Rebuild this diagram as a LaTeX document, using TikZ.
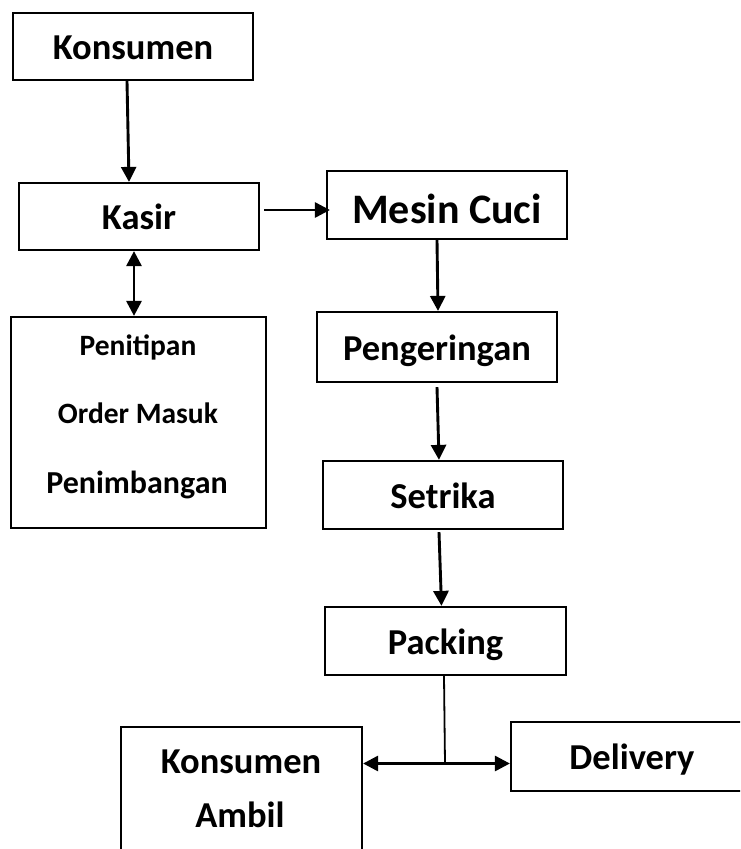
\documentclass[tikz,border=0pt]{standalone}
\usepackage{fontspec}
\setmainfont{Carlito}
\usetikzlibrary{arrows.meta}
\begin{document}
\begin{tikzpicture}[x=1pt,y=-1pt,
  box/.style={draw, line width=2.2pt, rectangle, inner sep=0pt,
    font=\bfseries\fontsize{36.5}{44}\selectfont, text height=26pt, text depth=0pt},
  big/.style={font=\bfseries\fontsize{42}{50}\selectfont, text height=36pt},
  txt/.style={inner sep=0pt, anchor=base, font=\bfseries\fontsize{36.5}{44}\selectfont},
  arr/.style={line width=2.9pt, -{Triangle[length=15pt,width=15pt]}},
  darr/.style={line width=2.9pt, {Triangle[length=15pt,width=15pt]}-{Triangle[length=15pt,width=15pt]}},
  plain/.style={line width=1.8pt}]
\useasboundingbox (0,0) rectangle (740,849);
\begin{scope}
\clip (0,0) rectangle (740,849);
\node[box, minimum width=240pt, minimum height=67pt] (konsumen) at (133,46.5) {Konsumen};
\node[box, minimum width=240pt, minimum height=67pt] (kasir) at (139,216.5) {Kasir};
\node[box, big, minimum width=240pt, minimum height=68pt] (mesin) at (447,205) {Mesin Cuci};
\node[box, minimum width=240pt, minimum height=70pt] (pengeringan) at (437,347) {Pengeringan};
\node[box, minimum width=240pt, minimum height=68pt] (setrika) at (443,495) {Setrika};
\node[box, minimum width=241pt, minimum height=68pt] (packing) at (445.5,641) {Packing};
\node[box, minimum width=255pt, minimum height=211pt] (penitipan) at (138.5,422.5) {};
\node[txt, font=\bfseries\fontsize{29.5}{36}\selectfont] (t1) at (138,355) {Penitipan};
\node[txt, font=\bfseries\fontsize{29.5}{36}\selectfont] (t2) at (138,423) {Order Masuk};
\node[txt, font=\bfseries\fontsize{32}{38}\selectfont] (t3) at (137,493) {Penimbangan};
\node[box, minimum width=241pt, minimum height=128pt] (ambil) at (241.5,791) {};
\node[txt] (a1) at (241,773) {Konsumen};
\node[txt] (a2) at (240,827) {Ambil};
\node[box, minimum width=242pt, minimum height=69pt] (delivery) at (632,756.5) {Delivery};
\coordinate (junc) at (445,763.5);

\draw[arr] ([xshift=-6pt]konsumen.south) -- ([xshift=-10pt]kasir.north);
\draw[darr] ([xshift=-5pt]kasir.south) -- ([xshift=-4.5pt]penitipan.north);
\draw[arr] ([shift={(4pt,6.5pt)}]kasir.east) -- ([shift={(4pt,6.5pt)}]kasir.east -| mesin.west);
\draw[arr] ([xshift=-10pt]mesin.south) -- ([xshift=1pt]pengeringan.north);
\draw[arr] ([shift={(0pt,-4pt)}]pengeringan.south) -- ([xshift=-4pt]setrika.north);
\draw[arr] ([shift={(-4pt,-2pt)}]setrika.south) -- ([xshift=-4pt]packing.north);
\draw[plain] ([xshift=-1.5pt]packing.south) -- (junc);
\draw[arr] (junc) -- (junc -| ambil.east);
\draw[arr] (junc) -- (junc -| delivery.west);
\end{scope}
\end{tikzpicture}
\end{document}
